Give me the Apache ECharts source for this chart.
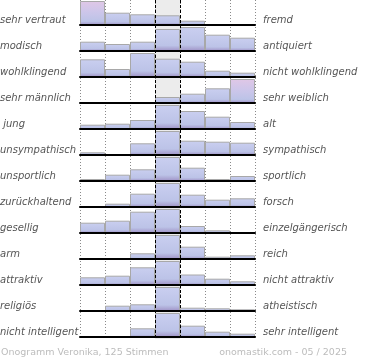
<!DOCTYPE html>
<html>
<head>
<meta charset="utf-8">
<script src="https://cdn.jsdelivr.net/npm/echarts@6/dist/echarts.min.js"></script>
<style>html,body{margin:0;padding:0;background:#fff}#c{width:370px;height:360px}</style>
</head>
<body>
<div id="c"></div>
<script>
// ---- data ----
const columns = ['1', '2', '3', '4', '5', '6', '7'];
const leftLabels = ['sehr vertraut', 'modisch', 'wohlklingend', 'sehr männlich', ' jung', 'unsympathisch', 'unsportlich', 'zurückhaltend', 'gesellig', 'arm', 'attraktiv', 'religiös', 'nicht intelligent'];
const rightLabels = ['fremd', 'antiquiert', 'nicht wohlklingend', 'sehr weiblich', 'alt', 'sympathisch', 'sportlich', 'forsch', 'einzelgängerisch', 'reich', 'nicht attraktiv', 'atheistisch', 'sehr intelligent'];
const vertraut     = [24, 12.3, 10.7, 9.7, 4.3, 0, 0];
const modisch      = [9.3, 7, 9.3, 22, 24, 16.3, 13.3];
const wohlklingend = [17.7, 8, 24, 18.3, 15.3, 6.3, 4.3];
const maennlich    = [0, 0, 0, 6, 9.3, 14.7, 24];
const jung         = [4.3, 5.3, 9, 24, 18, 12.3, 7];
const sympathisch  = [2.7, 0, 11.7, 24, 14.3, 13.3, 12.3];
const sportlich    = [2, 6.3, 11.7, 24, 13.3, 2, 5];
const forsch       = [0, 3.3, 13.3, 24, 12.3, 7.3, 8.7];
const gesellig     = [10.3, 12.3, 21.3, 24, 7, 2.7, 1];
const arm          = [0, 0, 5.7, 24, 12.3, 2.3, 3.7];
const attraktiv    = [7.7, 9.3, 17.7, 24, 10.5, 6.3, 3.7];
const religioes    = [0, 5.3, 6.7, 24, 3.3, 2.7, 1.7];
const intelligent  = [0, 0, 8.7, 24, 11.3, 5.3, 3.3];
const rows = [vertraut, modisch, wohlklingend, maennlich, jung, sympathisch, sportlich, forsch, gesellig, arm, attraktiv, religioes, intelligent];
const footerLeft = 'Onogramm Veronika, 125 Stimmen';
const footerRight = 'onomastik.com - 05 / 2025';

// ---- layout ----
const LEFT = 80, WIDTH = 175, ROW_H = 24, STEP = 26, TOP0 = 1;
const FONT = 'DejaVu Sans';
const T = 'rgba(0,0,0,0)';

const normalGrad = {type:'linear', x:0, y:0, x2:0, y2:1, colorStops:[
  {offset:0, color:'#cacff0'}, {offset:0.75, color:'#bcc3e7'}, {offset:1, color:'#9f92c6'}]};
const pinkGrad = {type:'linear', x:0, y:0, x2:0, y2:1, colorStops:[
  {offset:0, color:'#e0c7e6'}, {offset:0.45, color:'#cdc6ea'}, {offset:0.85, color:'#bcc3e7'}, {offset:1, color:'#9f92c6'}]};

const grid = [], xAxis = [], yAxis = [], series = [], title = [];

rows.forEach((vals, i) => {
  const top = TOP0 + STEP * i;
  grid.push({left: LEFT, width: WIDTH, top: top, height: ROW_H});
  xAxis.push({type:'category', gridIndex:i, data:columns, boundaryGap:true, z:5,
    axisLine:{show:true, lineStyle:{color:'#000', width:2}}, axisTick:{show:false},
    axisLabel:{show:false}, splitLine:{show:false}});
  yAxis.push({type:'value', gridIndex:i, min:0, max:ROW_H, show:false});
  const mx = Math.max(...vals);
  series.push({type:'bar', xAxisIndex:i, yAxisIndex:i, barCategoryGap:'0%', z:2,
    silent:true, animation:false,
    data: vals.map((v, k) => ({value: v, itemStyle: {
      color: ((k === 0 || k === 6) && v === mx) ? pinkGrad : normalGrad,
      borderColor:'#a8a8a8', borderWidth: v > 0 ? 1 : 0}}))});
  const base = top + ROW_H;
  title.push({text: leftLabels[i], left: 0, top: base - 11, padding: 0,
    textStyle:{fontFamily:FONT, fontStyle:'italic', fontWeight:'normal', fontSize:10, color:'#555', lineHeight:12}});
  title.push({text: rightLabels[i], left: 263, top: base - 11, padding: 0,
    textStyle:{fontFamily:FONT, fontStyle:'italic', fontWeight:'normal', fontSize:10, color:'#555', lineHeight:12}});
});

// overlay grid: dotted column separators + grey middle band
const nR = rows.length;
grid.push({left: LEFT, width: WIDTH, top: 0, height: 339});
xAxis.push({type:'value', gridIndex:nR, min:0, max:columns.length, interval:1, z:0,
  axisLine:{show:false}, axisTick:{show:false}, axisLabel:{show:false},
  splitLine:{show:true, showMinLine:true, showMaxLine:true, lineStyle:{color:'#8a8a8a', width:1, type:[1,2]}},
  splitArea:{show:true, areaStyle:{color:[T, T, T, '#ececec', T, T, T]}}});
yAxis.push({type:'value', gridIndex:nR, min:0, max:1, show:false});

// dashed middle markers
grid.push({left: LEFT + 3 * WIDTH / 7, width: WIDTH / 7, top: 0, height: 338});
xAxis.push({type:'value', gridIndex:nR + 1, min:3, max:4, interval:1, z:10,
  axisLine:{show:false}, axisTick:{show:false}, axisLabel:{show:false},
  splitLine:{show:true, showMinLine:true, showMaxLine:true, lineStyle:{color:'#000', width:1, type:[3,2]}}});
yAxis.push({type:'value', gridIndex:nR + 1, min:0, max:1, show:false});

title.push({text: footerLeft, left: 1, top: 347, padding: 0,
  textStyle:{fontFamily:FONT, fontWeight:'normal', fontSize:9.5, color:'#bcbcbc', lineHeight:12}});
title.push({text: footerRight, right: 23, top: 347, padding: 0,
  textStyle:{fontFamily:FONT, fontWeight:'normal', fontSize:9.5, color:'#bcbcbc', lineHeight:12}});

const chart = echarts.init(document.getElementById('c'), null, {renderer:'canvas'});
chart.setOption({animation:false, backgroundColor:'#fff', title, grid, xAxis, yAxis, series});
</script>
</body>
</html>
